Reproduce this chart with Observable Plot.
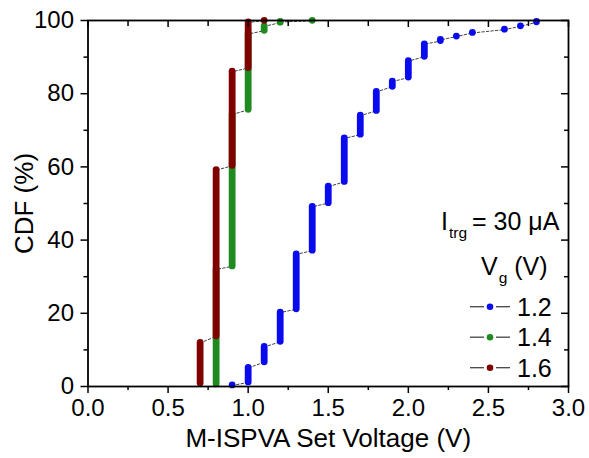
<!DOCTYPE html>
<html><head><meta charset="utf-8">
<script src="https://cdn.jsdelivr.net/npm/d3@7"></script>
<script src="https://cdn.jsdelivr.net/npm/@observablehq/plot@0.6"></script>
<style>
body{margin:0;background:#fff}
#chart svg{font-family:"Liberation Sans",Arial,sans-serif}
</style>
</head><body><div id="chart"></div>
<script>
// Series (gate voltage Vg) and colours
const seriesNames = ["1.2", "1.4", "1.6"];
const seriesColors = ["#0a0aee", "#1f8a1f", "#800000"];

// Vg = 1.2 V : set voltage (V), CDF at bottom / top of each step (%)
const voltage12 = [0.9, 1.0, 1.1, 1.2, 1.3, 1.4, 1.5, 1.6, 1.7, 1.8, 1.9, 2.0, 2.1, 2.2, 2.3, 2.4, 2.6, 2.7, 2.8];
const cdfLow12  = [0.3, 1.1, 6.6, 12.2, 21.1, 37.1, 50.1, 55.9, 68.8, 75.3, 81.9, 84.4, 90.1, 94.4, 95.6, 96.6, 97.5, 98.4, 99.5];
const cdfHigh12 = [0.3, 5.1, 10.8, 20.2, 36.1, 49.1, 54.6, 67.8, 74.0, 80.5, 83.3, 88.9, 93.5, 94.7, 95.6, 96.6, 97.5, 98.4, 99.6];

// Vg = 1.4 V
const voltage14 = [0.8, 0.9, 1.0, 1.1, 1.2, 1.4];
const cdfLow14  = [0.6, 32.8, 75.6, 97.2, 99.4, 99.9];
const cdfHigh14 = [32.0, 74.3, 96.3, 98.4, 99.6, 99.9];

// Vg = 1.6 V
const voltage16 = [0.7, 0.8, 0.9, 1.0, 1.1];
const cdfLow16  = [0.8, 13.7, 60.3, 87.0, 99.9];
const cdfHigh16 = [11.9, 59.1, 86.0, 99.5, 99.9];

// Axis ticks
const xMajor = [0, 0.5, 1.0, 1.5, 2.0, 2.5, 3.0];
const xMinor = [0.25, 0.75, 1.25, 1.75, 2.25, 2.75];
const yMajor = [0, 20, 40, 60, 80, 100];
const yMinor = [10, 30, 50, 70, 90];

const xLabel = "M-ISPVA Set Voltage (V)";
const yLabel = "CDF (%)";

const raw = [
  {name: seriesNames[0], v: voltage12, lo: cdfLow12, hi: cdfHigh12},
  {name: seriesNames[1], v: voltage14, lo: cdfLow14, hi: cdfHigh14},
  {name: seriesNames[2], v: voltage16, lo: cdfLow16, hi: cdfHigh16}
];
const columns = raw.flatMap(s => s.v.map((v, i) => ({series: s.name, v, lo: s.lo[i], hi: s.hi[i]})));
const path = raw.flatMap(s => s.v.flatMap((v, i) => [
  {series: s.name, v, c: s.lo[i]},
  {series: s.name, v, c: s.hi[i]}
]));

const blank = () => "";
const FS = 24;

const plot = Plot.plot({
  width: 589,
  height: 458,
  marginLeft: 87.5,
  marginRight: 21,
  marginTop: 20,
  marginBottom: 72,
  x: {domain: [0, 3]},
  y: {domain: [0, 100]},
  color: {domain: seriesNames, range: seriesColors},
  style: {background: "white", color: "black", fontFamily: "Liberation Sans, Arial, sans-serif"},
  marks: [
    Plot.line(path, {x: "v", y: "c", z: "series", stroke: "#444", strokeWidth: 1, strokeDasharray: "2.5,2"}),
    Plot.ruleX(columns, {x: "v", y1: "lo", y2: "hi", stroke: "series", strokeWidth: 6.8, strokeLinecap: "round"}),
    // bottom axis
    Plot.axisX({ticks: xMajor, tickSize: 7, tickPadding: 5, tickFormat: d3.format(".1f"), fontSize: FS, label: null, strokeWidth: 1.5}),
    Plot.axisX({ticks: xMinor, tickSize: 4, tickFormat: blank, label: null, strokeWidth: 1.5}),
    // top axis (inward)
    Plot.axisX({anchor: "top", ticks: xMajor, tickSize: -6, tickFormat: blank, label: null, strokeWidth: 1.5}),
    Plot.axisX({anchor: "top", ticks: xMinor, tickSize: -5, tickFormat: blank, label: null, strokeWidth: 1.5}),
    // left axis
    Plot.axisY({ticks: yMajor, tickSize: 7, tickPadding: 7, tickFormat: d3.format("d"), fontSize: FS, label: null, strokeWidth: 1.5}),
    Plot.axisY({ticks: yMinor, tickSize: 4, tickFormat: blank, label: null, strokeWidth: 1.5}),
    // right axis (inward)
    Plot.axisY({anchor: "right", ticks: yMajor, tickSize: -8, tickFormat: blank, label: null, strokeWidth: 1.5}),
    Plot.axisY({anchor: "right", ticks: yMinor, tickSize: -5, tickFormat: blank, label: null, strokeWidth: 1.5}),
    Plot.frame({stroke: "black", strokeWidth: 1.8}),
    Plot.text([xLabel], {frameAnchor: "bottom", textAnchor: "middle", lineAnchor: "middle", dy: 52, fontSize: 26}),
    Plot.text([yLabel], {frameAnchor: "left", textAnchor: "middle", lineAnchor: "middle", dx: -63, rotate: -90, fontSize: 26})
  ]
});

// In-plot legend
const svg = d3.select(plot);
const lg = svg.append("g")
  .attr("font-family", "Liberation Sans, Arial, sans-serif")
  .attr("fill", "black")
  .attr("text-anchor", "start");
const t1 = lg.append("text").attr("x", 441).attr("y", 230).attr("font-size", 25);
t1.append("tspan").text("I");
t1.append("tspan").attr("font-size", 15.5).attr("dy", 8).attr("dx", 1).text("trg");
t1.append("tspan").attr("dy", -8).attr("dx", 5).text("= 30 μA");
const t2 = lg.append("text").attr("x", 481).attr("y", 275).attr("font-size", 25);
t2.append("tspan").text("V");
t2.append("tspan").attr("font-size", 15.5).attr("dy", 8).attr("dx", 1).text("g");
t2.append("tspan").attr("dy", -8).text(" (V)");
seriesNames.forEach((name, i) => {
  const yy = 306.7 + i * 30.5;
  lg.append("line").attr("x1", 470).attr("x2", 484).attr("y1", yy).attr("y2", yy).attr("stroke", "#444").attr("stroke-width", 1.3);
  lg.append("line").attr("x1", 496).attr("x2", 510).attr("y1", yy).attr("y2", yy).attr("stroke", "#444").attr("stroke-width", 1.3);
  lg.append("circle").attr("cx", 490).attr("cy", yy).attr("r", 3.3).attr("fill", seriesColors[i]);
  lg.append("text").attr("x", 517).attr("y", yy + 9).attr("font-size", 25).text(name);
});

document.getElementById("chart").appendChild(plot);
</script>
</body></html>
